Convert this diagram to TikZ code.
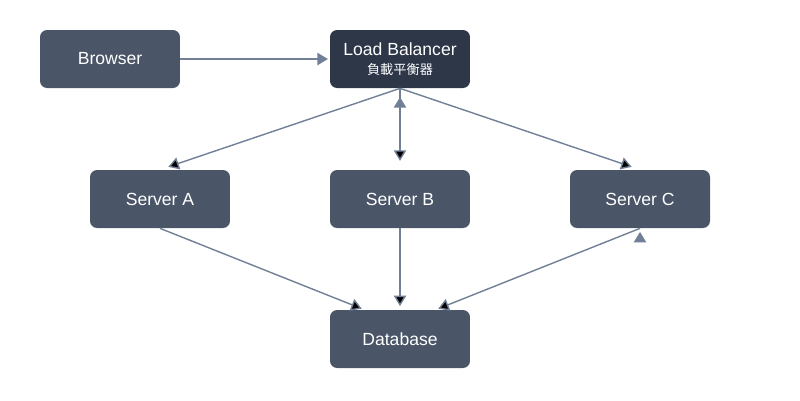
\documentclass[tikz,border=0pt]{standalone}
\usepackage{fontspec}
\setmainfont{Liberation Sans}
\newfontfamily\cjk{Noto Sans CJK TC}
\usetikzlibrary{positioning,arrows.meta}
\definecolor{boxgray}{HTML}{4A5568}
\definecolor{boxdark}{HTML}{2D3748}
\definecolor{linegray}{HTML}{718096}
\tikzset{main node/.style={rectangle,rounded corners=4pt,fill=boxgray,text=white,minimum width=2.8cm,minimum height=1.16cm,inner sep=0pt,font=\fontsize{10}{12}\selectfont},
  dark node/.style={main node,fill=boxdark},
  link/.style={draw=linegray,thick,-{Triangle[length=6pt,width=7pt]}},}

\begin{document}
\begin{tikzpicture}[x=0.02cm,y=-0.02cm]
    \useasboundingbox (0,0) rectangle (800,400);
    \node[main node] (browser) at (110,59) {Browser};
    \node[dark node,align=center] (lb) at (400,59) {Load Balancer\\[-1pt]{\cjk\fontsize{7.5}{9}\selectfont 負載平衡器}};
    \node[main node] (a) at (160,199) {Server A};
    \node[main node] (b) at (400,199) {Server B};
    \node[main node] (c) at (640,199) {Server C};
    \node[main node] (db) at (400,339) {Database};
    \coordinate (dbl) at (365,310);
    \coordinate (dbr) at (435,310);

    \path[link,shorten >=1pt]
    (browser) -- (lb);
    \path[link,shorten >=5pt]
    (lb.south) edge (a.north)
    (lb.south) edge (b.north)
    (lb.south) edge (c.north)
    ;
    \path[link,shorten >=2pt]
    (a.south) edge (dbl)
    (b.south) edge (db.north)
    (c.south) edge (dbr)
    ;
\end{tikzpicture}
\end{document}
